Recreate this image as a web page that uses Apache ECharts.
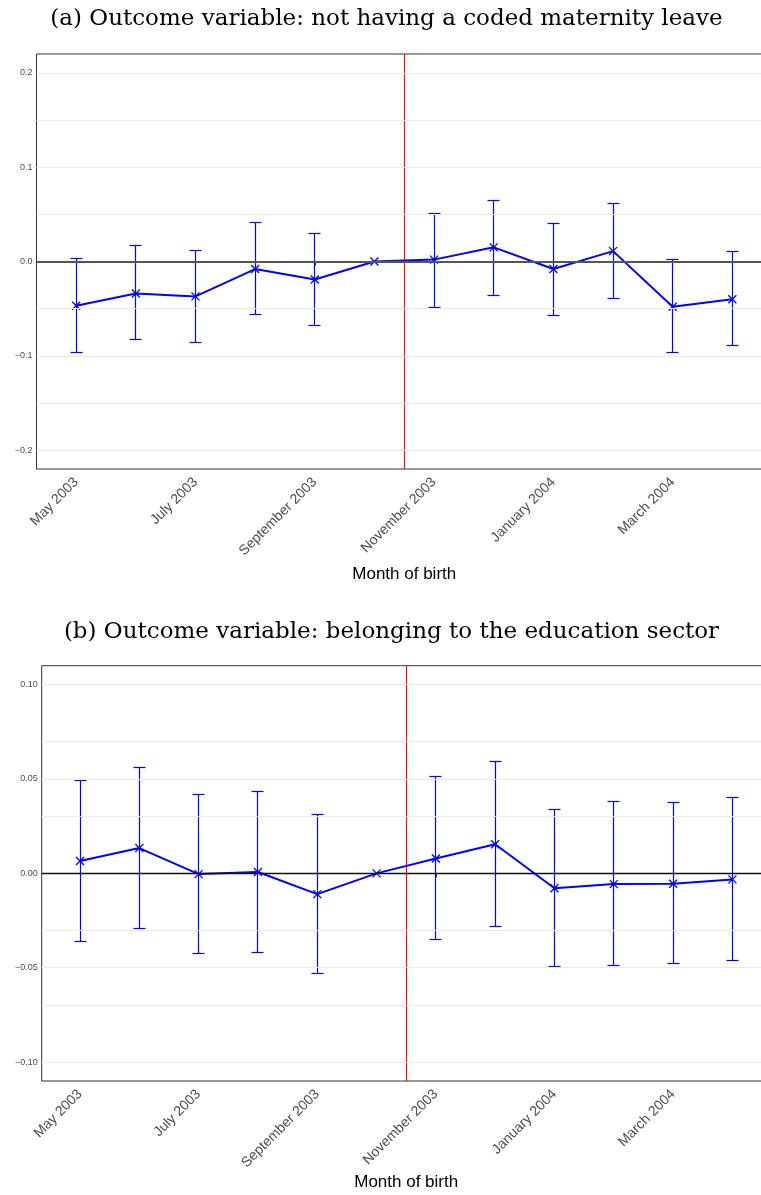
<!DOCTYPE html>
<html>
<head>
<meta charset="utf-8">
<script src="https://cdn.jsdelivr.net/npm/echarts@6/dist/echarts.min.js"></script>
<style>
  html, body { margin: 0; padding: 0; background: #fff; }
  #chart { width: 761px; height: 1195px; }
</style>
</head>
<body>
<div id="chart"></div>
<script>
// Months of birth (x positions are the month index 0..11)
const months = ['May 2003', 'June 2003', 'July 2003', 'August 2003', 'September 2003', 'October 2003',
                'November 2003', 'December 2003', 'January 2004', 'February 2004', 'March 2004', 'April 2004'];
const monthTicks = [0, 2, 4, 6, 8, 10];
// Cut-off between October and November 2003
const cutoff = 5.5;

// (a) not having a coded maternity leave: estimate, lower and upper CI bound
const estA = [-0.047, -0.034, -0.037, -0.008, -0.019, 0, 0.002, 0.015, -0.008, 0.011, -0.048, -0.040];
const loA  = [-0.096, -0.083, -0.086, -0.056, -0.068, null, -0.049, -0.036, -0.057, -0.039, -0.097, -0.089];
const hiA  = [0.003, 0.017, 0.012, 0.041, 0.030, null, 0.051, 0.065, 0.040, 0.061, 0.002, 0.011];
const ticksA = [-0.2, -0.1, 0, 0.1, 0.2];
const gridA  = [-0.2, -0.15, -0.1, -0.05, 0.05, 0.1, 0.15, 0.2];

// (b) belonging to the education sector
const estB = [0.0065, 0.0134, -0.0004, 0.0007, -0.011, 0, 0.0079, 0.0154, -0.0079, -0.0057, -0.0055, -0.0032];
const loB  = [-0.036, -0.029, -0.0424, -0.0417, -0.0532, null, -0.035, -0.0283, -0.0495, -0.0487, -0.0479, -0.0463];
const hiB  = [0.0493, 0.0563, 0.0416, 0.0431, 0.0314, null, 0.0514, 0.0591, 0.0337, 0.038, 0.0374, 0.040];
const ticksB = [-0.10, -0.05, 0, 0.05, 0.10];
const gridB  = [-0.1, -0.075, -0.05, -0.025, 0.025, 0.05, 0.075, 0.1];

const titleA = '(a) Outcome variable: not having a coded maternity leave';
const titleB = '(b) Outcome variable: belonging to the education sector';

const BLUE = '#0000ff';
const AXIS = '#333333';
const LABEL = '#4d4d4d';

const snap = v => Math.round(v - 0.5) + 0.5;

function fmtY(decimals) {
  return v => (v < 0 ? '\u2212' : '') + Math.abs(v).toFixed(decimals);
}

// Error bar with caps plus an "x" marker at the estimate
function renderErr(params, api) {
  const x = api.value(0), m = api.value(1), lo = api.value(2), hi = api.value(3);
  const c = api.coord([x, m]);
  const children = [];
  const barStyle = { stroke: BLUE, lineWidth: 1.2, fill: null };
  if (isFinite(lo) && isFinite(hi)) {
    const pLo = api.coord([x, lo]), pHi = api.coord([x, hi]);
    const bx = snap(pLo[0]), yLo = snap(pLo[1]), yHi = snap(pHi[1]);
    const cap = 6;
    children.push({ type: 'line', shape: { x1: bx, y1: yLo, x2: bx, y2: yHi }, style: barStyle });
    children.push({ type: 'line', shape: { x1: bx - cap, y1: yLo, x2: bx + cap, y2: yLo }, style: barStyle });
    children.push({ type: 'line', shape: { x1: bx - cap, y1: yHi, x2: bx + cap, y2: yHi }, style: barStyle });
  }
  const s = 4;
  const mk = { stroke: BLUE, lineWidth: 1.3, fill: null };
  children.push({ type: 'line', shape: { x1: c[0] - s, y1: c[1] - s, x2: c[0] + s, y2: c[1] + s }, style: mk });
  children.push({ type: 'line', shape: { x1: c[0] - s, y1: c[1] + s, x2: c[0] + s, y2: c[1] - s }, style: mk });
  return { type: 'group', children };
}

// Vertical cut-off line across the whole panel
function renderCut(params, api) {
  const cs = params.coordSys;
  const x = snap(api.coord([api.value(0), 0])[0]);
  return { type: 'line', shape: { x1: x, y1: cs.y, x2: x, y2: cs.y + cs.height },
           style: { stroke: '#ff0000', lineWidth: 1.1 } };
}

function panelSeries(idx, est, lo, hi, gridVals, zeroStyle) {
  const pts = est.map((v, i) => [i, v]);
  const err = est.map((v, i) => [i, v, lo[i] == null ? NaN : lo[i], hi[i] == null ? NaN : hi[i]]);
  return [
    { // horizontal grid lines
      type: 'line', xAxisIndex: idx, yAxisIndex: idx, data: [], silent: true, z: 0,
      markLine: {
        silent: true, symbol: ['none', 'none'], label: { show: false },
        lineStyle: { color: '#ebebeb', width: 1, type: 'solid' },
        emphasis: { disabled: true },
        data: gridVals.map(v => ({ yAxis: v }))
      }
    },
    { // zero reference line
      type: 'line', xAxisIndex: idx, yAxisIndex: idx, data: [], silent: true, z: 1,
      markLine: {
        silent: true, symbol: ['none', 'none'], label: { show: false },
        emphasis: { disabled: true },
        lineStyle: zeroStyle,
        data: [{ yAxis: 0 }]
      }
    },
    {
      type: 'custom', xAxisIndex: idx, yAxisIndex: idx, data: [[cutoff, 0]], renderItem: renderCut, z: 2,
      silent: true, animation: false
    },
    {
      type: 'line', xAxisIndex: idx, yAxisIndex: idx, data: pts, showSymbol: false, z: 3,
      lineStyle: { color: BLUE, width: 2 }, itemStyle: { color: BLUE }, animation: false
    },
    {
      type: 'custom', xAxisIndex: idx, yAxisIndex: idx, data: err, renderItem: renderErr, z: 4,
      encode: { x: 0, y: [1, 2, 3] }, animation: false
    }
  ];
}

function xAxisCfg(idx, min, max, gap) {
  return {
    type: 'value', gridIndex: idx, min, max,
    name: 'Month of birth', nameLocation: 'middle', nameGap: gap,
    nameTextStyle: { fontFamily: 'Liberation Sans', fontSize: 17, color: '#000' },
    axisLine: { show: false },
    axisTick: { show: true, customValues: monthTicks, length: 4, lineStyle: { color: AXIS } },
    axisLabel: {
      customValues: monthTicks, rotate: 45, fontFamily: 'Liberation Sans', fontSize: 14,
      color: LABEL, margin: 11, formatter: v => months[Math.round(v)]
    },
    splitLine: { show: false }
  };
}

function yAxisCfg(idx, lim, ticks, dec) {
  return {
    type: 'value', gridIndex: idx, min: -lim, max: lim,
    axisLine: { show: false },
    axisTick: { show: true, customValues: ticks, length: 3, lineStyle: { color: AXIS } },
    axisLabel: { customValues: ticks, fontFamily: 'Liberation Sans', fontSize: 9, color: LABEL, margin: 4, formatter: fmtY(dec) },
    splitLine: { show: false }
  };
}

const chart = echarts.init(document.getElementById('chart'), null, { renderer: 'canvas' });
chart.setOption({
  backgroundColor: '#ffffff',
  animation: false,
  grid: [
    { left: 36.5, top: 54, width: 735.5, height: 415, outerBoundsMode: 'none', containLabel: false,
      show: true, borderColor: AXIS, borderWidth: 1, backgroundColor: 'transparent' },
    { left: 41.7, top: 665.7, width: 729, height: 415.3, outerBoundsMode: 'none', containLabel: false,
      show: true, borderColor: AXIS, borderWidth: 1, backgroundColor: 'transparent' }
  ],
  xAxis: [xAxisCfg(0, -0.665, 11.665, 97), xAxisCfg(1, -0.646, 11.646, 93)],
  yAxis: [yAxisCfg(0, 0.22, ticksA, 1), yAxisCfg(1, 0.11, ticksB, 2)],
  series: [
    ...panelSeries(0, estA, loA, hiA, gridA, { color: '#555555', width: 2, type: 'solid' }),
    ...panelSeries(1, estB, loB, hiB, gridB, { color: '#111111', width: 1.3, type: 'solid' })
  ],
  graphic: [
    { type: 'text', x: 386.5, y: 19, style: { text: titleA, align: 'center', verticalAlign: 'middle', font: '23px "DejaVu Serif"', fill: '#000' } },
    { type: 'text', x: 391.5, y: 632, style: { text: titleB, align: 'center', verticalAlign: 'middle', font: '23px "DejaVu Serif"', fill: '#000' } }
  ]
});
</script>
</body>
</html>
